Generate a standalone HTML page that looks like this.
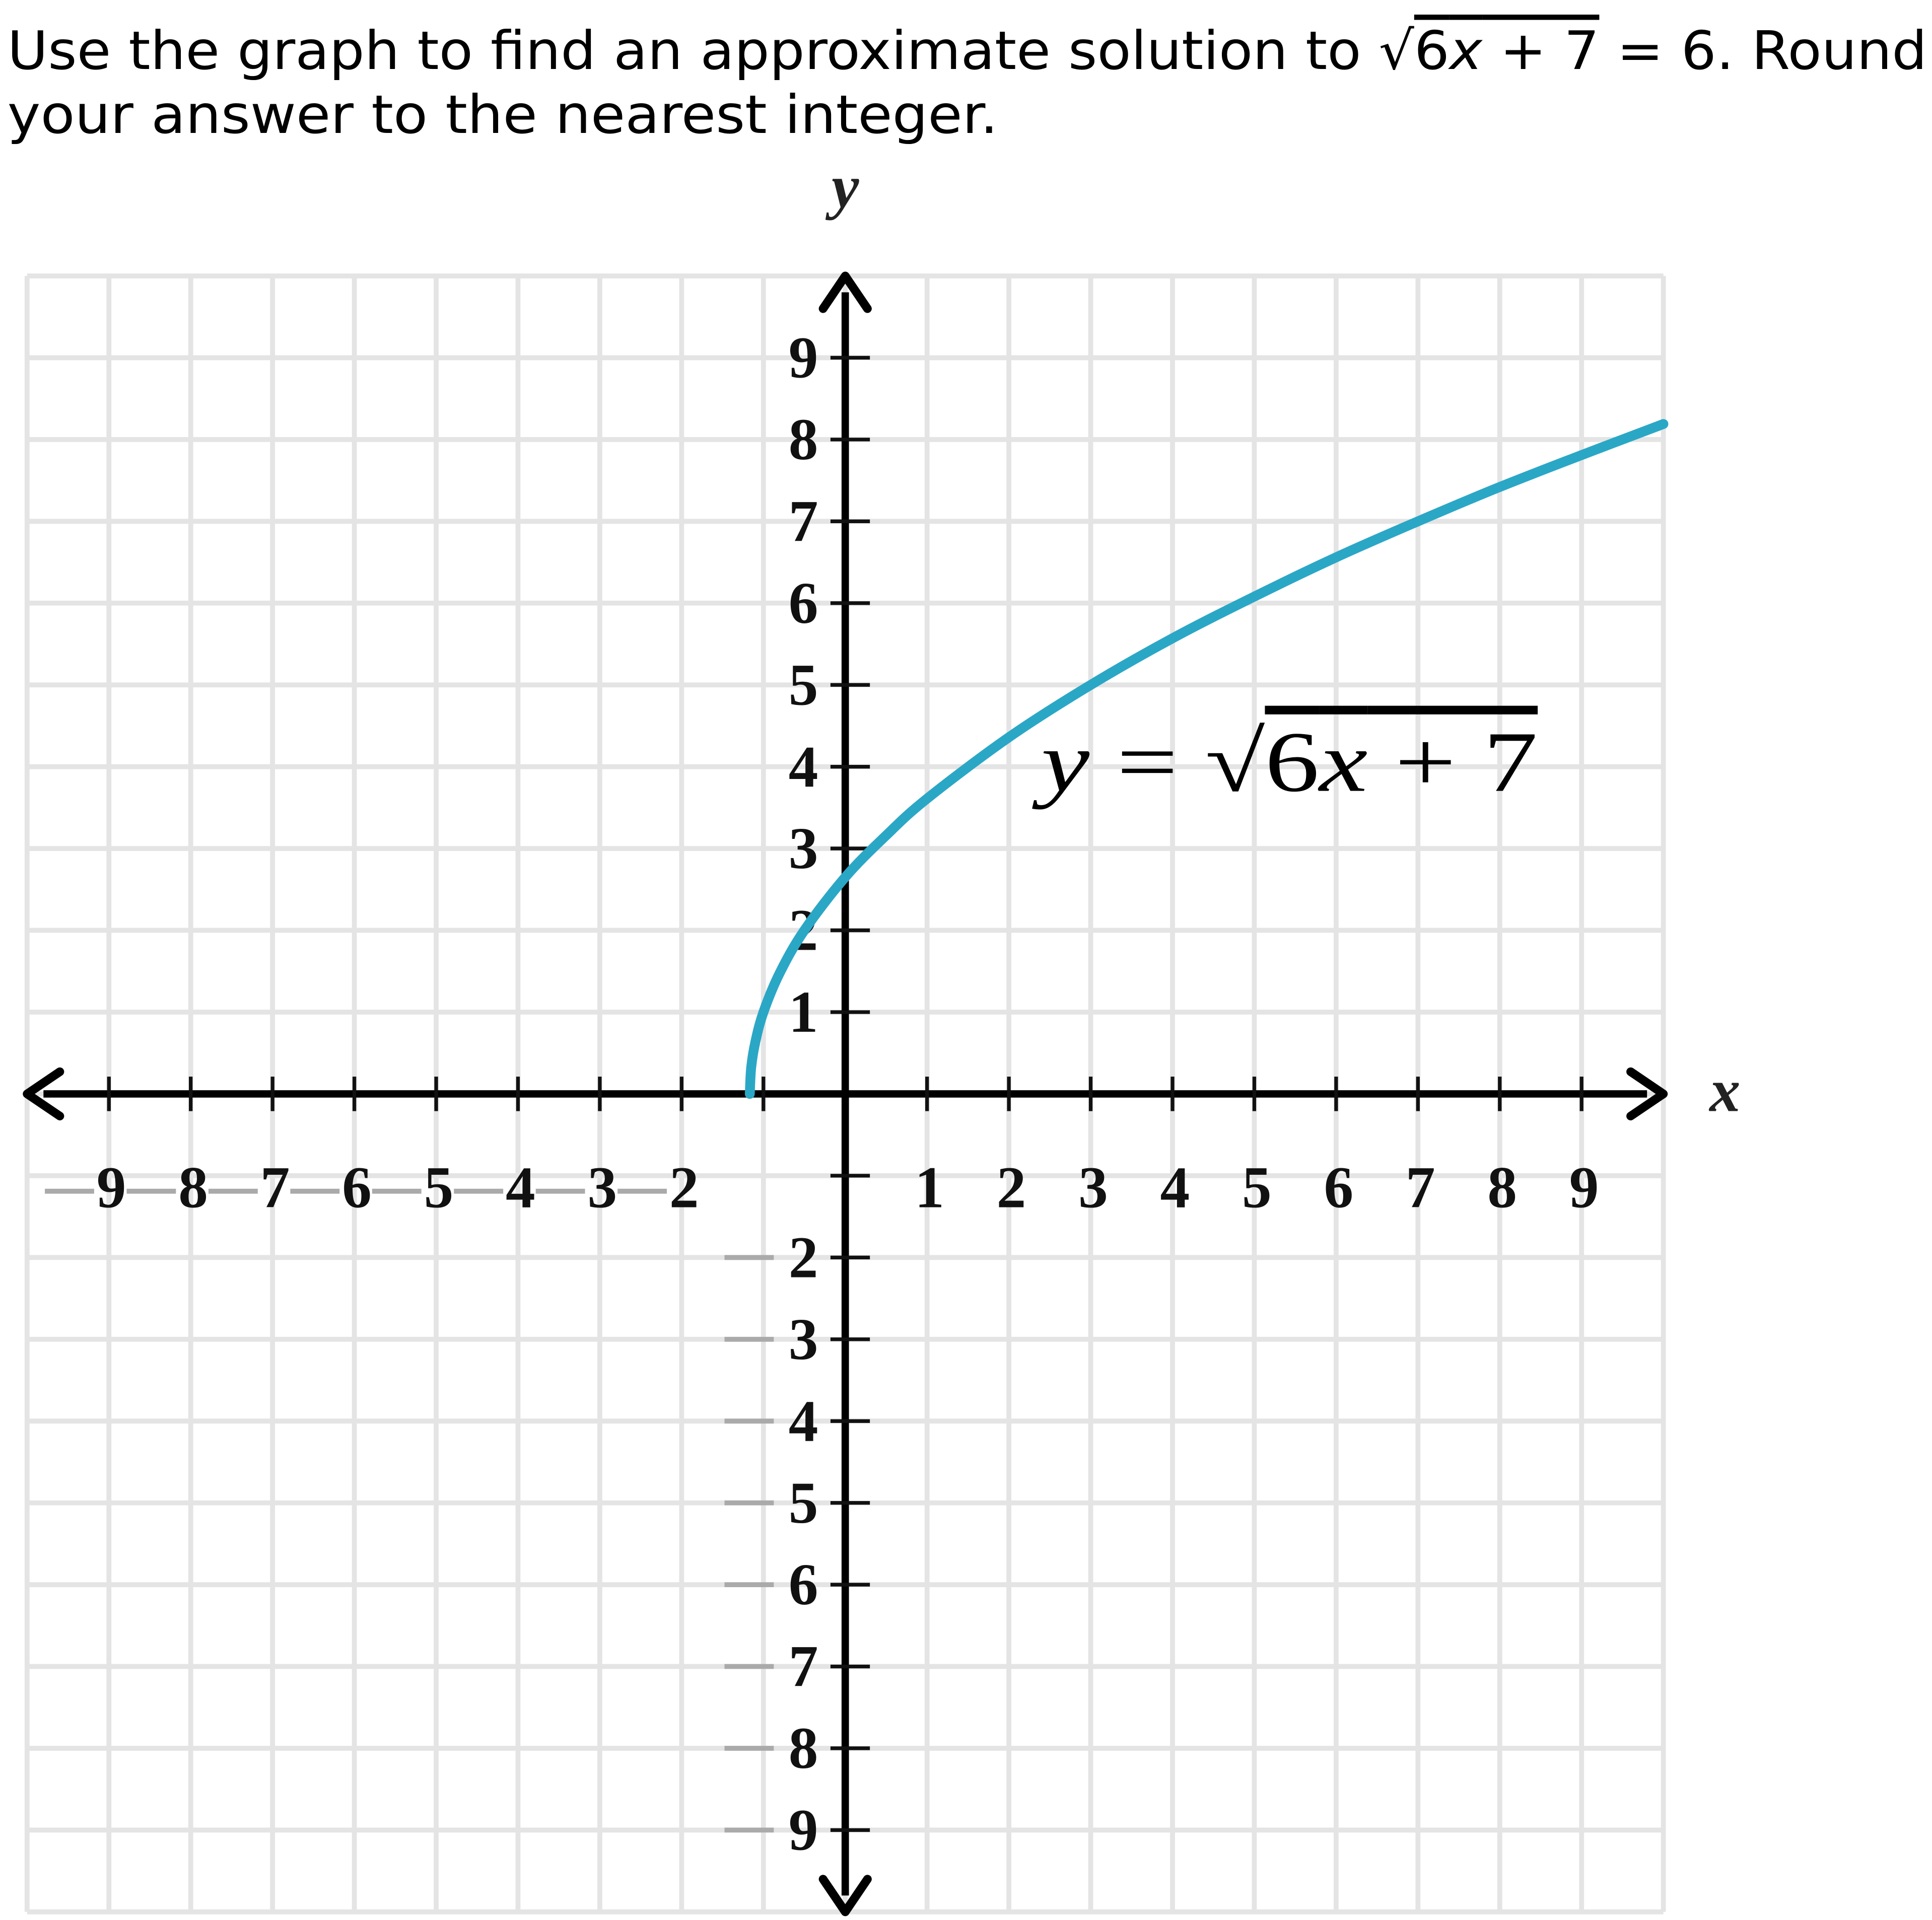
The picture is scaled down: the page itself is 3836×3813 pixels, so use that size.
<!DOCTYPE html>
<html><head><meta charset="utf-8">
<style>
html,body{margin:0;padding:0;background:#fff;}
body{width:3836px;height:3813px;overflow:hidden;}
svg{display:block;}
</style></head>
<body>
<svg id="chart" width="3836" height="3813" viewBox="0 0 1568 1558.6" preserveAspectRatio="none" xmlns="http://www.w3.org/2000/svg">
  <text x="6" y="56" textLength="1558" lengthAdjust="spacingAndGlyphs" font-family="DejaVu Sans, sans-serif" font-size="43" fill="#000">Use the graph to find an approximate solution to √<tspan text-decoration="overline">6<tspan font-style="italic">x</tspan> + 7</tspan> = 6. Round</text>
  <text x="6" y="108" textLength="804" lengthAdjust="spacingAndGlyphs" font-family="DejaVu Sans, sans-serif" font-size="43" fill="#000">your answer to the nearest integer.</text>
  <g id="grid"></g>
  <g id="axes"></g>
  <g id="labels"></g>
  <g id="curve"></g>
  <text x="686" y="168" text-anchor="middle" font-family="Liberation Serif, serif" font-style="italic" font-weight="bold" font-size="50" fill="#222">y</text>
  <text x="1400" y="902" text-anchor="middle" font-family="Liberation Serif, serif" font-style="italic" font-weight="bold" font-size="50" fill="#222">x</text>
  <text x="845" y="642" textLength="403" lengthAdjust="spacingAndGlyphs" font-family="Liberation Serif, serif" font-size="70" fill="#000"><tspan font-style="italic">y</tspan> = √<tspan text-decoration="overline">6<tspan font-style="italic">x</tspan> + 7</tspan></text>
</svg>
<script>
const xTicks = [-9,-8,-7,-6,-5,-4,-3,-2,-1,1,2,3,4,5,6,7,8,9];
const yTicks = [-9,-8,-7,-6,-5,-4,-3,-2,-1,1,2,3,4,5,6,7,8,9];
const curveX = [-1.1667,-1.15,-1.1,-1.0,-0.8,-0.5,0,0.5,1,2,3,4,5,6,7,8,9,10];
const curveY = [0,0.32,0.63,1.0,1.48,2.0,2.65,3.16,3.61,4.36,5.0,5.57,6.08,6.56,7.0,7.42,7.81,8.19];

const NS="http://www.w3.org/2000/svg";
const ox=686, oy=888, u=66.4;
function sx(v){return ox+v*u;}
function sy(v){return oy-v*u;}
function mk(tag,attrs,parent){const e=document.createElementNS(NS,tag);for(const k in attrs)e.setAttribute(k,attrs[k]);parent.appendChild(e);return e;}
const grid=document.getElementById('grid'), axes=document.getElementById('axes'), labels=document.getElementById('labels'), curve=document.getElementById('curve');
for(let i=-10;i<=10;i++){
  const v=mk('line',{x1:sx(i),x2:sx(i),y1:sy(10),y2:sy(-10),stroke:'#e4e4e4','stroke-width':4},grid);
  
  
  const h=mk('line',{x1:sx(-10),x2:sx(10),y1:sy(i),y2:sy(i),stroke:'#e4e4e4','stroke-width':4},grid);
  
  
}
const xa=mk('line',{x1:sx(-9.8),x2:sx(9.8),y1:oy,y2:oy,stroke:'#000','stroke-width':6},axes);


const ya=mk('line',{x1:ox,x2:ox,y1:sy(9.8),y2:sy(-9.8),stroke:'#000','stroke-width':6},axes);


const arrows=[[sx(-9.6),oy-18,sx(-10),oy,sx(-9.6),oy+18],[sx(9.6),oy-18,sx(10),oy,sx(9.6),oy+18],[ox-18,sy(9.6),ox,sy(10),ox+18,sy(9.6)],[ox-18,sy(-9.6),ox,sy(-10),ox+18,sy(-9.6)]];
arrows.forEach(a=>{
  const p=mk('polyline',{points:`${a[0]},${a[1]} ${a[2]},${a[3]} ${a[4]},${a[5]}`,fill:'none',stroke:'#000','stroke-width':7,'stroke-linecap':'round','stroke-linejoin':'round'},axes);
  
  
});
xTicks.forEach(t=>{
  const l=mk('line',{x1:sx(t),x2:sx(t),y1:oy-14,y2:oy+14,stroke:'#111','stroke-width':3},axes);
  
  
  if(t===-1) return;
  const tx=mk('text',{x:sx(t)+2,y:oy+92,'text-anchor':'middle','font-family':'Liberation Serif, serif','font-weight':'bold','font-size':48,fill:'#111'},labels);
  tx.textContent=Math.abs(t);
  
  
  if(t<0){const d=mk('line',{x1:sx(t)-52,x2:sx(t)-12,y1:oy+79,y2:oy+79,stroke:'#aaa','stroke-width':4},labels);
    
    }
});
yTicks.forEach(t=>{
  const l=mk('line',{x1:ox-12,x2:ox+20,y1:sy(t),y2:sy(t),stroke:'#111','stroke-width':3},axes);
  
  
  if(t===-1) return;
  const tx=mk('text',{x:ox-22,y:sy(t)+16,'text-anchor':'end','font-family':'Liberation Serif, serif','font-weight':'bold','font-size':48,fill:'#111'},labels);
  tx.textContent=Math.abs(t);
  
  
  if(t<0){const d=mk('line',{x1:ox-98,x2:ox-58,y1:sy(t),y2:sy(t),stroke:'#aaa','stroke-width':4},labels);
    
    }
});
const pts=curveX.map((x,i)=>[sx(x),sy(curveY[i])]);
let d=`M${pts[0][0]},${pts[0][1]}`;
for(let i=0;i<pts.length-1;i++){
  const p0=pts[i-1]||pts[i],p1=pts[i],p2=pts[i+1],p3=pts[i+2]||p2;
  d+=` C${p1[0]+(p2[0]-p0[0])/6},${p1[1]+(p2[1]-p0[1])/6} ${p2[0]-(p3[0]-p1[0])/6},${p2[1]-(p3[1]-p1[1])/6} ${p2[0]},${p2[1]}`;
}
const path=mk('path',{d:d,fill:'none',stroke:'#2ba7c6','stroke-width':8,'stroke-linecap':'round'},curve);


</script>
</body></html>
